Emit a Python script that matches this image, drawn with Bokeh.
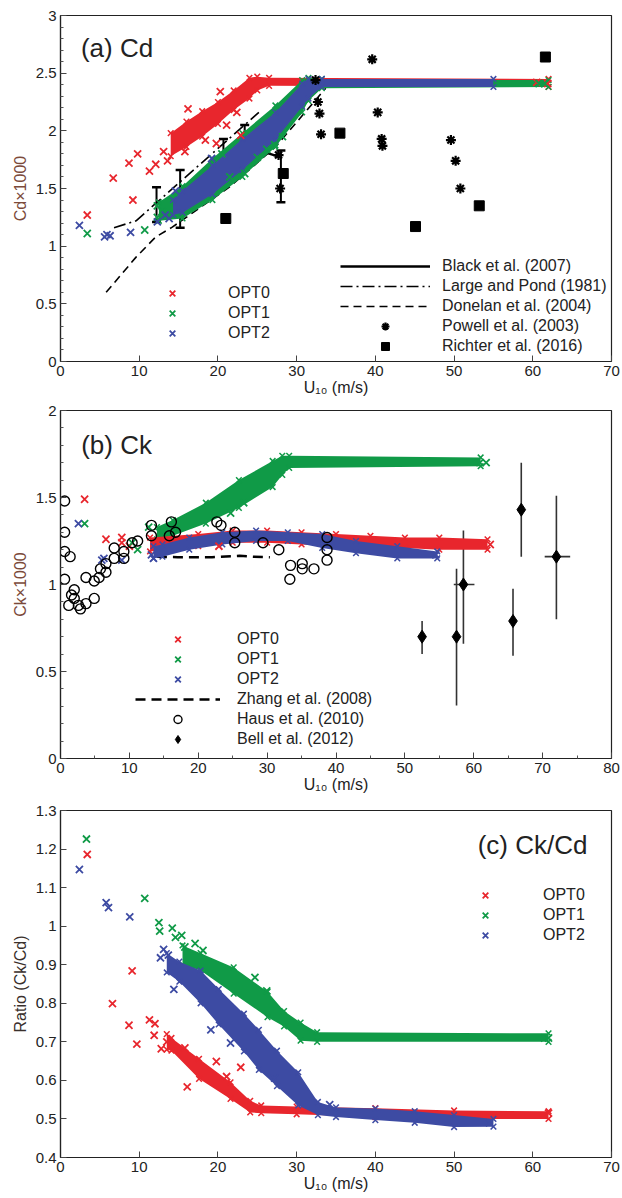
from bokeh.plotting import figure
from bokeh.models import (ColumnDataSource, Legend, LegendItem, Whisker, TeeHead, Label,
                          FixedTicker, NumeralTickFormatter)
from bokeh.layouts import column
from bokeh.embed import file_html
from bokeh.resources import INLINE

# ---------------- data : panel (a) Cd ----------------
a_red_band_u = [14.0, 16.0, 18.0, 20.0, 22.0, 24.0, 25.0, 26.5, 62.0]
a_red_band_hi = [1.98, 2.08, 2.17, 2.25, 2.35, 2.46, 2.47, 2.46, 2.45]
a_red_band_lo = [1.78, 1.86, 1.95, 2.06, 2.18, 2.28, 2.35, 2.39, 2.38]
a_green_band_u = [12.5, 15.5, 19.3, 23.1, 27.3, 30.7, 31.5, 33.2, 62.0]
a_green_band_hi = [1.38, 1.52, 1.76, 1.98, 2.22, 2.44, 2.46, 2.45, 2.44]
a_green_band_lo = [1.22, 1.24, 1.40, 1.60, 1.86, 2.16, 2.26, 2.37, 2.38]
a_blue_band_u = [14.3, 15.5, 19.3, 23.1, 27.3, 30.7, 31.5, 33.2, 55.0]
a_blue_band_hi = [1.40, 1.48, 1.70, 1.93, 2.16, 2.41, 2.45, 2.45, 2.45]
a_blue_band_lo = [1.27, 1.29, 1.45, 1.66, 1.92, 2.21, 2.28, 2.38, 2.38]

a_red_u = [3.4, 6.7, 8.7, 9.2, 9.8, 11.3, 12.1, 13.1, 13.6, 15.8, 16.2, 18.4, 19.8, 20.3, 21.1, 22.4, 22.9, 61.9, 60.5]
a_red_cd = [1.27, 1.59, 1.72, 1.40, 1.80, 1.65, 1.71, 1.82, 1.74, 1.82, 2.19, 1.92, 1.89, 2.34, 2.05, 2.16, 1.96, 2.41, 2.42]
a_green_u = [3.4, 10.7, 12.3, 12.3, 12.9, 20.5, 21.5, 23.4, 25.0, 26.2, 27.2, 28.2, 61.5, 60.8]
a_green_cd = [1.11, 1.14, 1.35, 1.25, 1.30, 1.80, 1.60, 1.63, 1.77, 1.84, 1.88, 1.95, 2.41, 2.41]
a_blue_u = [2.4, 5.6, 5.9, 6.3, 8.9, 12.3, 13.3, 13.8, 14.6, 19.2]
a_blue_cd = [1.18, 1.08, 1.10, 1.09, 1.12, 1.21, 1.27, 1.24, 1.48, 1.76]

black_u = [12.2, 15.2, 20.7, 23.4, 28.0]
black_cd = [1.37, 1.42, 1.74, 1.87, 1.77]
black_lo = [1.21, 1.16, 1.60, 1.70, 1.38]
black_hi = [1.51, 1.66, 1.93, 2.05, 1.83]
lp_u = [6.8, 9.6, 25.2]
lp_cd = [1.16, 1.22, 2.16]
don_u = [5.8, 9.6, 12.1, 14.2, 21.4, 27.3, 33.7]
don_cd = [0.60, 0.905, 1.08, 1.165, 1.51, 1.86, 2.37]
powell_u = [27.7, 27.9, 32.4, 32.7, 32.9, 33.1, 39.6, 40.3, 40.8, 40.9, 49.6, 50.2, 50.8]
powell_cd = [1.79, 1.50, 2.44, 2.25, 2.15, 1.97, 2.62, 2.16, 1.93, 1.87, 1.92, 1.74, 1.50]
richter_u = [21.0, 28.3, 35.5, 45.1, 53.2, 61.6]
richter_cd = [1.24, 1.63, 1.98, 1.17, 1.35, 2.64]

# ---------------- data : panel (b) Ck ----------------
b_green_band_u = [14.0, 16.3, 21.1, 25.9, 30.8, 32.2, 33.2, 61.0]
b_green_band_hi = [1.33, 1.37, 1.47, 1.60, 1.71, 1.74, 1.74, 1.73]
b_green_band_lo = [1.26, 1.28, 1.35, 1.44, 1.56, 1.63, 1.67, 1.68]
b_red_band_u = [13.0, 20.0, 25.0, 30.0, 35.0, 40.0, 45.0, 50.0, 55.0, 62.0]
b_red_band_hi = [1.27, 1.29, 1.31, 1.31, 1.30, 1.29, 1.28, 1.27, 1.27, 1.26]
b_red_band_lo = [1.19, 1.22, 1.24, 1.24, 1.23, 1.22, 1.21, 1.21, 1.20, 1.20]
b_blue_band_u = [13.5, 14.8, 18.7, 23.5, 28.4, 33.0, 38.0, 42.9, 48.9, 54.7]
b_blue_band_hi = [1.22, 1.23, 1.27, 1.30, 1.31, 1.30, 1.29, 1.25, 1.22, 1.19]
b_blue_band_lo = [1.15, 1.16, 1.20, 1.23, 1.25, 1.25, 1.21, 1.18, 1.15, 1.15]

b_red_u = [3.5, 6.6, 8.9, 8.9, 10.0, 23.0, 62.4, 61.5]
b_red_ck = [1.49, 1.26, 1.27, 1.24, 1.22, 1.22, 1.23, 1.23]
b_green_u = [3.5, 10.4, 11.2, 12.8, 14.4, 15.6, 24.7, 26.6, 61.8, 60.9]
b_green_ck = [1.35, 1.24, 1.20, 1.33, 1.30, 1.31, 1.41, 1.47, 1.70, 1.70]
b_blue_u = [2.6, 6.0, 6.3, 8.9, 13.2, 13.5, 54.5]
b_blue_ck = [1.35, 1.14, 1.15, 1.14, 1.17, 1.15, 1.17]

zhang_u = [14.0, 17.0, 22.0, 26.0, 28.0, 30.4]
zhang_ck = [1.16, 1.157, 1.157, 1.165, 1.16, 1.157]
haus_u = [0.6, 0.6, 0.6, 1.4, 0.6, 2.0, 1.2, 1.6, 2.0, 2.6, 2.9, 3.7, 3.7, 4.9, 4.9,
          5.6, 5.8, 6.6, 6.6, 7.8, 7.8, 9.2, 9.2, 10.4, 11.2, 13.2, 13.2, 16.1, 16.7, 15.8,
          22.7, 23.3, 25.3, 25.3, 29.4, 31.7, 33.4, 33.3, 35.1, 35.1, 36.8, 38.7, 38.7, 38.7]
haus_ck = [1.48, 1.30, 1.19, 1.16, 1.03, 0.97, 0.88, 0.94, 0.92, 0.88, 0.86, 0.89, 1.04, 0.92, 1.02,
           1.04, 1.09, 1.12, 1.07, 1.15, 1.21, 1.19, 1.15, 1.24, 1.25, 1.34, 1.28, 1.36, 1.30, 1.28,
           1.36, 1.34, 1.30, 1.24, 1.24, 1.20, 1.11, 1.03, 1.12, 1.09, 1.09, 1.27, 1.20, 1.14]
bell_u = [52.5, 57.5, 58.5, 65.7, 66.9, 72.0]
bell_ck = [0.70, 0.70, 1.00, 0.79, 1.43, 1.16]
bell_lo = [0.60, 0.305, 0.66, 0.59, 1.16, 0.80]
bell_hi = [0.79, 1.09, 1.31, 0.975, 1.70, 1.51]
bell_hu = [58.5, 72.0]
bell_hck = [1.00, 1.16]
bell_hlo = [57.1, 70.3]
bell_hhi = [60.1, 74.0]

# ---------------- data : panel (c) Ck/Cd ----------------
c_green_band_u = [15.5, 17.8, 22.0, 26.3, 28.4, 30.5, 32.6, 62.0]
c_green_band_hi = [0.95, 0.93, 0.893, 0.83, 0.78, 0.75, 0.725, 0.722]
c_green_band_lo = [0.90, 0.885, 0.825, 0.764, 0.74, 0.703, 0.70, 0.70]
c_red_band_u = [13.5, 14.1, 17.6, 21.6, 24.1, 25.5, 30.0, 40.0, 50.0, 62.0]
c_red_band_hi = [0.72, 0.71, 0.656, 0.595, 0.547, 0.535, 0.532, 0.528, 0.522, 0.52]
c_red_band_lo = [0.68, 0.677, 0.604, 0.552, 0.517, 0.515, 0.512, 0.505, 0.50, 0.50]
c_blue_band_u = [13.5, 15.1, 17.8, 20.1, 23.3, 25.2, 27.5, 30.2, 32.7, 35.0, 40.0, 45.0, 50.0, 55.0]
c_blue_band_hi = [0.93, 0.908, 0.885, 0.837, 0.773, 0.731, 0.677, 0.621, 0.544, 0.53, 0.527, 0.52, 0.51, 0.50]
c_blue_band_lo = [0.88, 0.856, 0.80, 0.745, 0.675, 0.627, 0.585, 0.535, 0.51, 0.505, 0.497, 0.49, 0.479, 0.48]

c_red_u = [3.4, 6.6, 8.7, 9.1, 9.7, 11.3, 12.0, 11.9, 12.8, 13.5, 15.8, 16.1, 19.8, 21.1, 22.9, 62.0]
c_red_r = [1.186, 0.799, 0.743, 0.884, 0.694, 0.757, 0.747, 0.717, 0.682, 0.70, 0.684, 0.583, 0.649, 0.61, 0.634, 0.515]
c_green_u = [3.3, 10.7, 12.5, 12.6, 14.2, 14.6, 15.4, 15.8, 17.1, 18.1, 24.7, 26.2, 61.5, 62.0]
c_green_r = [1.226, 1.072, 1.009, 0.987, 0.995, 0.971, 0.976, 0.946, 0.955, 0.937, 0.867, 0.832, 0.71, 0.71]
c_blue_u = [2.4, 5.8, 6.1, 8.8, 12.7, 13.1, 13.7, 14.4, 19.1, 21.6, 27.2, 34.2, 54.5]
c_blue_r = [1.147, 1.061, 1.048, 1.024, 0.918, 0.94, 0.925, 0.836, 0.731, 0.697, 0.606, 0.537, 0.49]

# ---------------- styling ----------------
RED = "#E8262D"
GREEN = "#109A47"
BLUE = "#3D4BA3"
FONT = "Liberation Sans"
TXT = "#222222"
W = 622
LEFT = 60
FRAME_W = 551


def make_fig(height, top, bottom, xmax, yr, xticks, xminor, yticks, yminor, ylabel, ylabel_color):
    p = figure(width=W, height=height, x_range=(0, xmax), y_range=yr,
               output_backend="svg", toolbar_location=None,
               min_border_left=LEFT, min_border_right=W - LEFT - FRAME_W, min_border_top=top,
               min_border_bottom=bottom)
    p.grid.visible = False
    p.outline_line_color = "#222222"
    p.outline_line_width = 1.2
    p.background_fill_color = "white"
    p.border_fill_color = "white"
    p.xaxis.ticker = FixedTicker(ticks=xticks, minor_ticks=xminor)
    p.yaxis.ticker = FixedTicker(ticks=yticks, minor_ticks=yminor)
    for ax in (p.xaxis[0], p.yaxis[0]):
        ax.axis_line_color = "#222222"
        ax.axis_line_width = 1.2
        ax.major_tick_in = 6
        ax.major_tick_out = 0
        ax.minor_tick_in = 3
        ax.minor_tick_out = 0
        ax.major_tick_line_color = "#444444"
        ax.minor_tick_line_color = "#555555"
        ax.major_label_text_font = FONT
        ax.major_label_text_font_size = "15px"
        ax.major_label_text_color = TXT
        ax.major_label_standoff = 4
        ax.axis_label_text_font = FONT
        ax.axis_label_text_font_size = "16px"
        ax.axis_label_text_font_style = "normal"
        ax.formatter = NumeralTickFormatter(format="0.[0]")
    p.xaxis.axis_label = "U₁₀ (m/s)"
    p.xaxis.axis_label_text_color = TXT
    p.xaxis.axis_label_standoff = 0
    p.yaxis.axis_label = ylabel
    p.yaxis.axis_label_text_color = ylabel_color
    p.yaxis.axis_label_standoff = 4
    return p


def band(p, u, lo, hi, color):
    p.varea(x=u, y1=lo, y2=hi, fill_color=color, fill_alpha=1.0)
    p.scatter(u, hi, marker="x", size=8, line_color=color, line_width=1.5)
    p.scatter(u, lo, marker="x", size=8, line_color=color, line_width=1.5)


def xs(p, u, y, color):
    return p.scatter(u, y, marker="x", size=10, line_color=color, line_width=1.8)


def legend(p, items, loc, gw, standoff):
    lg = Legend(items=items, location=loc, glyph_width=gw, glyph_height=20, label_height=20,
                label_standoff=standoff, spacing=0, padding=0, margin=0,
                border_line_alpha=0, background_fill_alpha=0,
                label_text_font=FONT, label_text_font_size="16px", label_text_color=TXT)
    p.add_layout(lg)


def title(p, x, y, text):
    p.add_layout(Label(x=x, y=y, text=text, text_font=FONT, text_font_size="26px",
                       text_color=TXT, text_baseline="middle"))


# ================= panel (a) =================
pa = make_fig(401, 15, 40, 70, (0, 3), list(range(0, 71, 10)), [],
              [0, 0.5, 1, 1.5, 2, 2.5, 3],
              [0.1, 0.2, 0.3, 0.4, 0.6, 0.7, 0.8, 0.9, 1.1, 1.2, 1.3, 1.4, 1.6, 1.7, 1.8, 1.9,
               2.1, 2.2, 2.3, 2.4, 2.6, 2.7, 2.8, 2.9],
              "Cd×1000", "#7B4A3A")

src_black = ColumnDataSource(dict(u=black_u, lo=black_lo, hi=black_hi))
pa.add_layout(Whisker(source=src_black, base="u", lower="lo", upper="hi", level="underlay",
                      line_color="black", line_width=2,
                      upper_head=TeeHead(size=9, line_width=2.5, line_color="black"),
                      lower_head=TeeHead(size=9, line_width=2.5, line_color="black")))
r_black = pa.line(black_u, black_cd, line_color="black", line_width=2.5)
r_lp = pa.line(lp_u, lp_cd, line_color="black", line_width=1.6, line_dash="12 4 2 4")
r_don = pa.line(don_u, don_cd, line_color="black", line_width=1.6, line_dash="8 5")

band(pa, a_red_band_u, a_red_band_lo, a_red_band_hi, RED)
band(pa, a_green_band_u, a_green_band_lo, a_green_band_hi, GREEN)
band(pa, a_blue_band_u, a_blue_band_lo, a_blue_band_hi, BLUE)
ra0 = xs(pa, a_red_u, a_red_cd, RED)
ra1 = xs(pa, a_green_u, a_green_cd, GREEN)
ra2 = xs(pa, a_blue_u, a_blue_cd, BLUE)

r_pow = pa.scatter(powell_u, powell_cd, marker="asterisk", size=10, line_color="black", line_width=2.2)
r_ric = pa.scatter(richter_u, richter_cd, marker="square", size=10, fill_color="black", line_color="black")

title(pa, 2.6, 2.72, "(a) Cd")
legend(pa, [LegendItem(label="OPT0", renderers=[ra0]), LegendItem(label="OPT1", renderers=[ra1]),
            LegendItem(label="OPT2", renderers=[ra2])], (102, 18), 20, 46)
legend(pa, [LegendItem(label="Black et al. (2007)", renderers=[r_black]),
            LegendItem(label="Large and Pond (1981)", renderers=[r_lp]),
            LegendItem(label="Donelan et al. (2004)", renderers=[r_don]),
            LegendItem(label="Powell et al. (2003)", renderers=[r_pow]),
            LegendItem(label="Richter et al. (2016)", renderers=[r_ric])], (280, 5), 90, 12)

# ================= panel (b) =================
pb = make_fig(395, 9, 38, 80, (0, 2), list(range(0, 81, 10)), list(range(5, 80, 10)),
              [0, 0.5, 1, 1.5, 2],
              [0.1, 0.2, 0.3, 0.4, 0.6, 0.7, 0.8, 0.9, 1.1, 1.2, 1.3, 1.4, 1.6, 1.7, 1.8, 1.9],
              "Ck×1000", "#7B4A3A")

r_zhang = pb.line(zhang_u, zhang_ck, line_color="black", line_width=2.5, line_dash="10 6")
band(pb, b_green_band_u, b_green_band_lo, b_green_band_hi, GREEN)
band(pb, b_red_band_u, b_red_band_lo, b_red_band_hi, RED)
band(pb, b_blue_band_u, b_blue_band_lo, b_blue_band_hi, BLUE)
rb0 = xs(pb, b_red_u, b_red_ck, RED)
rb1 = xs(pb, b_green_u, b_green_ck, GREEN)
rb2 = xs(pb, b_blue_u, b_blue_ck, BLUE)
r_haus = pb.scatter(haus_u, haus_ck, marker="circle", size=10, fill_alpha=0, line_color="black", line_width=1.4)

src_bell = ColumnDataSource(dict(u=bell_u, lo=bell_lo, hi=bell_hi))
pb.add_layout(Whisker(source=src_bell, base="u", lower="lo", upper="hi", line_color="#333333",
                      line_width=1.6, upper_head=None, lower_head=None))
src_bellh = ColumnDataSource(dict(ck=bell_hck, lo=bell_hlo, hi=bell_hhi))
pb.add_layout(Whisker(source=src_bellh, base="ck", lower="lo", upper="hi", dimension="width",
                      line_color="#333333", line_width=1.6, upper_head=None, lower_head=None))
r_bell = pb.scatter(bell_u, bell_ck, marker="diamond", size=13, fill_color="black", line_color="black")

title(pb, 3.0, 1.80, "(b) Ck")
legend(pb, [LegendItem(label="OPT0", renderers=[rb0]), LegendItem(label="OPT1", renderers=[rb1]),
            LegendItem(label="OPT2", renderers=[rb2]),
            LegendItem(label="Zhang et al. (2008)", renderers=[r_zhang]),
            LegendItem(label="Haus et al. (2010)", renderers=[r_haus]),
            LegendItem(label="Bell et al. (2012)", renderers=[r_bell])], (75, 9), 85, 17)

# ================= panel (c) =================
pc = make_fig(399, 14, 38, 70, (0.4, 1.3), list(range(0, 71, 10)), [],
              [0.4, 0.5, 0.6, 0.7, 0.8, 0.9, 1.0, 1.1, 1.2, 1.3], [],
              "Ratio (Ck/Cd)", "#3A302C")

band(pc, c_green_band_u, c_green_band_lo, c_green_band_hi, GREEN)
band(pc, c_red_band_u, c_red_band_lo, c_red_band_hi, RED)
band(pc, c_blue_band_u, c_blue_band_lo, c_blue_band_hi, BLUE)
rc0 = xs(pc, c_red_u, c_red_r, RED)
rc1 = xs(pc, c_green_u, c_green_r, GREEN)
rc2 = xs(pc, c_blue_u, c_blue_r, BLUE)

title(pc, 53.0, 1.21, "(c) Ck/Cd")
legend(pc, [LegendItem(label="OPT0", renderers=[rc0]), LegendItem(label="OPT1", renderers=[rc1]),
            LegendItem(label="OPT2", renderers=[rc2])], (415, 212), 20, 48)

layout = column(pa, pb, pc, spacing=0)
open("out.html", "w").write(file_html(layout, INLINE))
